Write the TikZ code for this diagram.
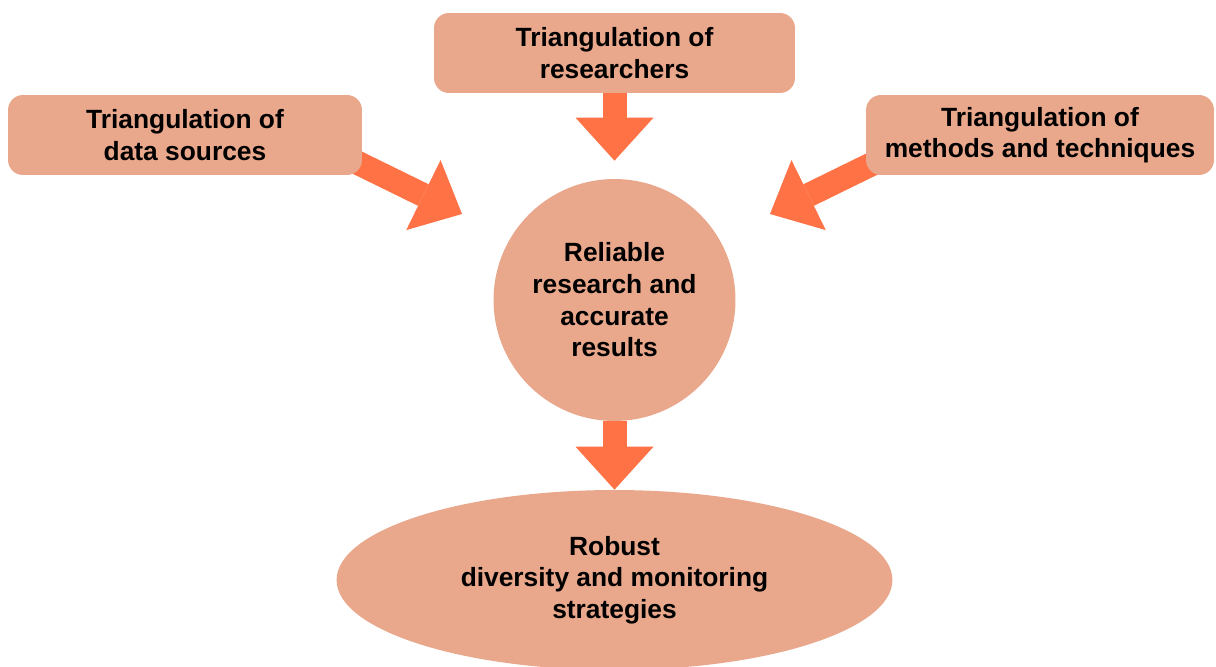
\documentclass[tikz,border=0pt]{standalone}
\usepackage{fontspec}
\setmainfont{Liberation Sans}
\usetikzlibrary{shapes,arrows.meta,positioning,calc,backgrounds}
\definecolor{boxfill}{HTML}{E9A78C}
\definecolor{arrowfill}{HTML}{FF7245}

\begin{document}
\begin{tikzpicture}[x=0.02cm, y=-0.02cm,
    box/.style={rectangle, rounded corners=0.3cm, fill=boxfill, minimum height=1.6cm, align=center, font=\fontsize{15}{18}\selectfont\bfseries},
    bigarrow/.style={draw=arrowfill, line width=0.48cm, -{Triangle[length=0.86cm, width=1.56cm, line width=0pt]}}
]
\useasboundingbox (0,0) rectangle (1216,666);

% Sources of triangulation
\node[box, minimum width=7.22cm] (researchers) at (614.5, 53) {Triangulation of\\researchers};
\node[box, minimum width=7.08cm] (datasrc) at (185, 135) {Triangulation of\\data sources};
\node[box, minimum width=6.96cm] (methods) at (1040, 135) {Triangulation of\\methods and techniques};

% Centre and outcome
\node[circle, fill=boxfill, minimum size=4.84cm, inner sep=0pt, align=center, font=\fontsize{15}{18}\selectfont\bfseries] (reliable) at (614.5, 300) {Reliable\\research and\\accurate\\results};
\node[ellipse, fill=boxfill, minimum width=11.12cm, minimum height=3.6cm, inner sep=0pt, align=center, font=\fontsize{15}{18}\selectfont\bfseries] (robust) at (614.5, 580) {Robust\\diversity and monitoring\\strategies};

\coordinate (lefttip) at (462, 214);
\coordinate (righttip) at (770, 214);

\begin{pgfonlayer}{background}
\draw[bigarrow] (researchers.south) -- ([yshift=0.36cm]reliable.north);
\draw[bigarrow] ([shift={(-22,-21)}]datasrc.south east) -- (lefttip);
\draw[bigarrow] ([shift={(26,-21)}]methods.south west) -- (righttip);
\draw[bigarrow] (reliable.south) -- (robust.north);
\end{pgfonlayer}

\end{tikzpicture}
\end{document}
